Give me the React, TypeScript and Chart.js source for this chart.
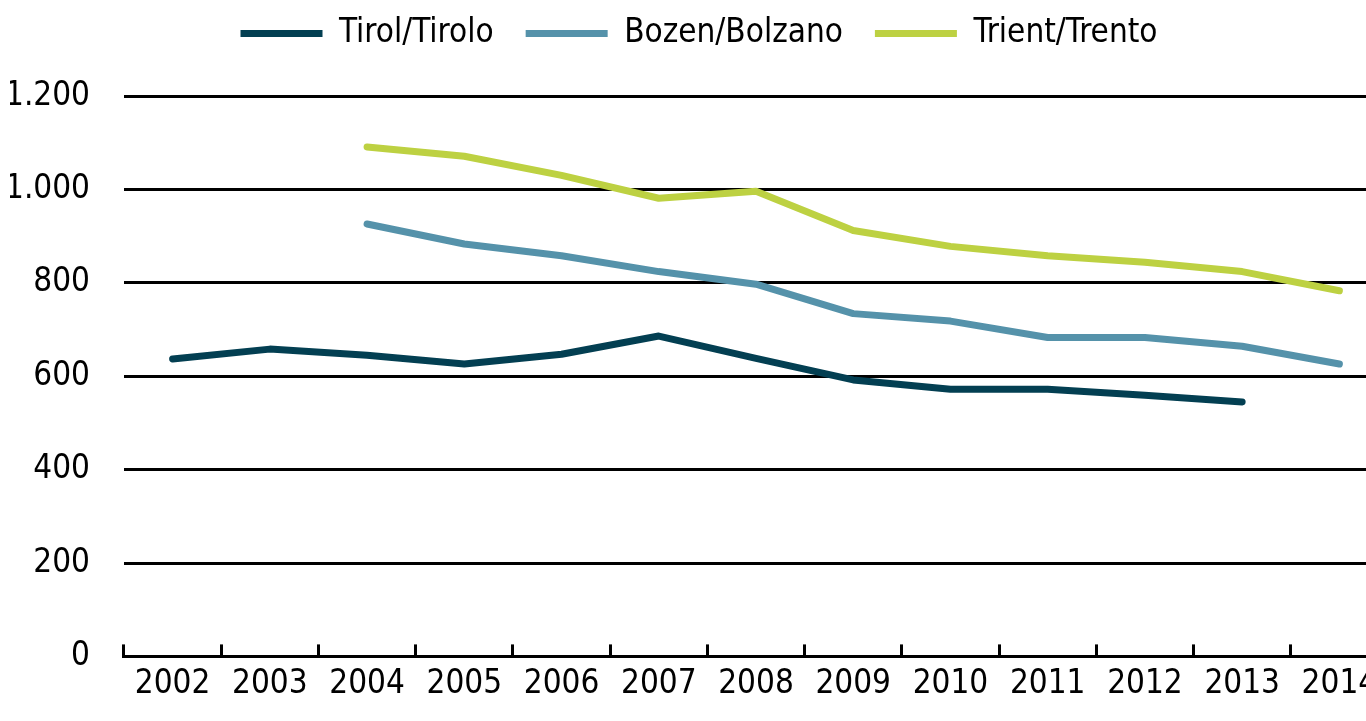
import React, { useEffect, useRef } from "react";
import { Chart, registerables } from "chart.js";

Chart.register(...registerables);

const years = ["2002", "2003", "2004", "2005", "2006", "2007", "2008", "2009", "2010", "2011", "2012", "2013", "2014"];
const tirol = [637, 658, 645, 626, 647, 686, 638, 592, 572, 572, 559, 545, null];
const bozen = [null, null, 926, 883, 858, 824, 797, 734, 718, 683, 683, 664, 626];
const trient = [null, null, 1091, 1071, 1030, 981, 996, 912, 878, 858, 844, 824, 783];
const yTickValues = [0, 200, 400, 600, 800, 1000, 1200];

const FONT = "'DejaVu Sans Condensed', 'DejaVu Sans', sans-serif";
const FS = 33;

const legendHeight = {
  id: "legendHeight",
  beforeInit(chart: any) {
    const legend = chart.legend;
    if (!legend) return;
    const orig = legend.fit;
    legend.fit = function () {
      orig.call(this);
      this.height = 111;
    };
  },
};

export default function App() {
  const ref = useRef<HTMLCanvasElement | null>(null);
  useEffect(() => {
    if (!ref.current) return;
    const mk = (label: string, data: (number | null)[], color: string) => ({
      label,
      data,
      borderColor: color,
      backgroundColor: color,
      borderWidth: 7,
      borderCapStyle: "round" as const,
      borderJoinStyle: "round" as const,
      pointRadius: 0,
      pointHoverRadius: 0,
      tension: 0,
      spanGaps: false,
      fill: false,
    });
    const chart = new Chart(ref.current, {
      type: "line",
      data: {
        labels: years,
        datasets: [
          mk("Tirol/Tirolo", tirol, "#033f52"),
          mk("Bozen/Bolzano", bozen, "#5592aa"),
          mk("Trient/Trento", trient, "#bdd142"),
        ],
      },
      plugins: [legendHeight],
      options: {
        responsive: false,
        animation: false,
        devicePixelRatio: 1,
        layout: { padding: { left: 10, right: 36, top: -15, bottom: -3 } },
        plugins: {
          tooltip: { enabled: false },
          legend: {
            position: "top",
            align: "center",
            padding: 0,
            labels: {
              usePointStyle: true,
              pointStyle: "line",
              pointStyleWidth: 82,
              color: "#000",
              font: { family: FONT, size: FS },
              padding: 32,
            },
          },
        },
        scales: {
          x: {
            offset: true,
            grid: {
              offset: true,
              drawOnChartArea: false,
              drawTicks: true,
              tickLength: -12,
              color: "#000",
              lineWidth: 3,
            },
            border: { display: true, color: "#000", width: 3 },
            ticks: {
              color: "#000",
              font: { family: FONT, size: FS },
              padding: 20,
              maxRotation: 0,
              autoSkip: false,
            },
          },
          y: {
            min: 0,
            max: 1200,
            afterBuildTicks: (axis: any) => {
              axis.ticks = yTickValues.map((v) => ({ value: v }));
            },
            afterFit: (axis: any) => {
              axis.width = 114;
            },
            grid: {
              color: "#000",
              lineWidth: 3,
              drawTicks: false,
            },
            border: { display: false },
            ticks: {
              color: "#000",
              font: { family: FONT, size: FS },
              padding: 34,
              callback: (v: any) => Number(v).toLocaleString("de-DE"),
            },
          },
        },
      },
    });
    return () => chart.destroy();
  }, []);
  return (
    <div style={{ position: "fixed", left: 0, top: 0, width: 1366, height: 721, overflow: "hidden", background: "#fff" }}>
      <canvas ref={ref} width={1424} height={721} style={{ display: "block", width: 1424, height: 721 }} />
    </div>
  );
}
